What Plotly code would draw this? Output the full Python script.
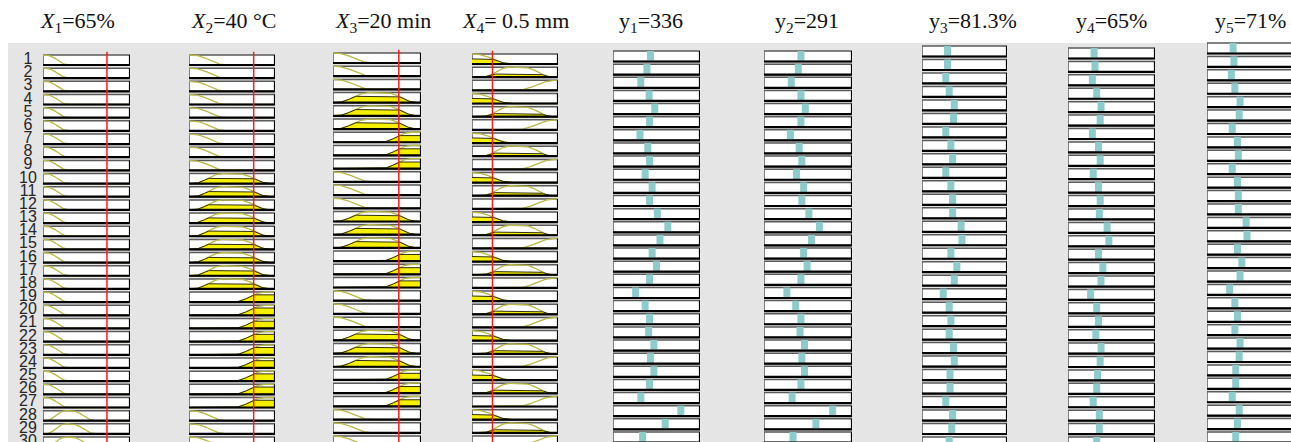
import numpy as np
import plotly.graph_objects as go

# ---------------- data ----------------
titles = ["<i>X</i><sub>1</sub>=65%", "<i>X</i><sub>2</sub>=40 °C", "<i>X</i><sub>3</sub>=20 min",
          "<i>X</i><sub>4</sub>= 0.5 mm", "y<sub>1</sub>=336", "y<sub>2</sub>=291",
          "y<sub>3</sub>=81.3%", "y<sub>4</sub>=65%", "y<sub>5</sub>=71%"]
rule_ids = list(range(1, 31))

# antecedent membership function used by each rule (L = low, M = medium, H = high)
x1_mf = ["L", "L", "L", "L", "L", "L", "L", "L", "L", "L", "L", "L", "L", "L", "L",
         "L", "L", "L", "L", "L", "L", "L", "L", "L", "L", "L", "L", "M", "M", "M"]
x2_mf = ["L", "L", "L", "L", "L", "L", "L", "L", "L", "M", "M", "M", "M", "M", "M",
         "M", "M", "M", "H", "H", "H", "H", "H", "H", "H", "H", "H", "L", "L", "L"]
x3_mf = ["L", "L", "L", "M", "M", "M", "H", "H", "H", "L", "L", "L", "M", "M", "M",
         "H", "H", "H", "L", "L", "L", "M", "M", "M", "H", "H", "H", "L", "L", "L"]
x4_mf = ["L", "M", "H", "L", "M", "H", "L", "M", "H", "L", "M", "H", "L", "M", "H",
         "L", "M", "H", "L", "M", "H", "L", "M", "H", "L", "M", "H", "L", "M", "H"]

# current input values (fraction of each input's universe)
input_values = [0.735, 0.752, 0.748, 0.238]

# membership function parameters (fraction of universe)
mf_params = [
    {"L": ("z", 0.02, 0.31), "M": ("pi", 0.02, 0.27, 0.31, 0.62)},
    {"L": ("z", 0.02, 0.45), "M": ("pi", 0.03, 0.40, 0.55, 0.96), "H": ("s", 0.50, 0.90)},
    {"L": ("z", 0.01, 0.46), "M": ("pi", 0.02, 0.42, 0.58, 0.97), "H": ("s", 0.53, 0.90)},
    {"L": ("z", 0.00, 0.48), "M": ("pi", 0.10, 0.45, 0.58, 0.95), "H": ("s", 0.50, 0.98)},
]

# rule outputs (fraction of each output's universe)
y1_out = [0.43, 0.39, 0.32, 0.415, 0.48, 0.42, 0.31, 0.40, 0.42, 0.37, 0.45, 0.42, 0.51, 0.63, 0.54,
          0.45, 0.50, 0.42, 0.26, 0.37, 0.42, 0.41, 0.47, 0.43, 0.47, 0.42, 0.32, 0.78, 0.60, 0.34]
y2_out = [0.42, 0.39, 0.31, 0.42, 0.47, 0.42, 0.30, 0.40, 0.43, 0.37, 0.45, 0.43, 0.51, 0.63, 0.54,
          0.45, 0.49, 0.42, 0.26, 0.36, 0.42, 0.41, 0.46, 0.43, 0.46, 0.42, 0.32, 0.78, 0.59, 0.33]
y3_out = [0.30, 0.30, 0.28, 0.32, 0.38, 0.37, 0.28, 0.34, 0.36, 0.28, 0.34, 0.36, 0.36, 0.46, 0.47,
          0.34, 0.41, 0.38, 0.25, 0.32, 0.34, 0.32, 0.37, 0.38, 0.33, 0.33, 0.28, 0.36, 0.35, 0.32]
y4_out = [0.30, 0.31, 0.28, 0.33, 0.38, 0.37, 0.28, 0.35, 0.37, 0.29, 0.35, 0.37, 0.36, 0.45, 0.47,
          0.35, 0.40, 0.38, 0.26, 0.33, 0.35, 0.32, 0.38, 0.37, 0.34, 0.33, 0.29, 0.36, 0.36, 0.33]
y5_out = [0.30, 0.31, 0.28, 0.32, 0.38, 0.37, 0.29, 0.35, 0.36, 0.29, 0.35, 0.36, 0.36, 0.45, 0.46,
          0.35, 0.40, 0.38, 0.26, 0.32, 0.35, 0.32, 0.38, 0.37, 0.33, 0.33, 0.29, 0.37, 0.35, 0.33]

input_rules = [x1_mf, x2_mf, x3_mf, x4_mf]
outputs = [y1_out, y2_out, y3_out, y4_out, y5_out]

# ---------------- layout (pixels) ----------------
W, H = 1291, 442
# left, right, top of row 1 box, top of row 30 box, box height
col_geom = [
    (43, 130, 55, 437, 10), (189, 275, 55, 437, 10), (333, 421, 53, 436, 10), (472, 558, 54, 436, 10),
    (613, 700, 51, 432, 10.5), (764, 852, 51, 432, 10.5), (922, 1007, 46, 437, 10.5),
    (1068, 1155, 48, 437, 10.5), (1207, 1294, 43, 432, 10.5),
]
title_x = [77, 234, 383, 515, 651, 807, 973, 1111, 1250]
title_y = 22
label_x = 28


def smf(x, a, b):
    m = (a + b) / 2
    t = (x - a) / (b - a)
    u = (x - b) / (b - a)
    return np.where(x <= a, 0.0, np.where(x <= m, 2 * t ** 2, np.where(x <= b, 1 - 2 * u ** 2, 1.0)))


def mf_eval(p, x):
    x = np.asarray(x, dtype=float)
    if p[0] == "z":
        return 1 - smf(x, p[1], p[2])
    if p[0] == "s":
        return smf(x, p[1], p[2])
    return smf(x, p[1], p[2]) * (1 - smf(x, p[3], p[4]))


fig = go.Figure()
layout_axes = {}
xs = np.linspace(0, 1, 101)

for k, (l, r, t1, t30, bh) in enumerate(col_geom):
    idx = "" if k == 0 else str(k + 1)
    xa, ya = "x" + idx, "y" + idx
    pitch = (t30 - t1) / 29
    hb = bh / pitch
    right = min(r, W)
    layout_axes["xaxis" + idx] = dict(domain=[l / W, right / W], range=[0, (right - l) / (r - l)],
                                      visible=False, anchor=ya, fixedrange=True)
    layout_axes["yaxis" + idx] = dict(domain=[0, 1], range=[(H - t1) / pitch, -t1 / pitch],
                                      visible=False, anchor=xa, fixedrange=True)

    # boxes
    bx, by, sx, sy = [], [], [], []
    for i in range(len(rule_ids)):
        top, bot = i, i + hb
        bx += [0, 1, 1, 0, 0, None]
        by += [top, top, bot, bot, top, None]
        sx += [1, 1, 0, None]
        sy += [top, bot, bot, None]
    fig.add_trace(go.Scatter(x=bx, y=by, xaxis=xa, yaxis=ya, mode="lines", fill="toself",
                             fillcolor="white", line=dict(color="#5a5a5a", width=1.5),
                             hoverinfo="skip", showlegend=False))

    if k < 4:
        rules = input_rules[k]
        params = mf_params[k]
        val = input_values[k]
        cx, cy, fx, fy = [], [], [], []
        for i, lab in enumerate(rules):
            mf = mf_eval(params[lab], xs)
            cx += list(xs) + [None]
            cy += list(i + hb * (1 - mf)) + [None]
            mu = float(mf_eval(params[lab], [val])[0])
            if mu > 0.01:
                clip = np.minimum(mf, mu)
                fx += list(xs) + [1, 0, None]
                fy += list(i + hb * (1 - clip)) + [i + hb, i + hb, None]
        fig.add_trace(go.Scatter(x=cx, y=cy, xaxis=xa, yaxis=ya, mode="lines",
                                 line=dict(color="#b8b845", width=1.3),
                                 hoverinfo="skip", showlegend=False))
        if fx:
            fig.add_trace(go.Scatter(x=fx, y=fy, xaxis=xa, yaxis=ya, mode="lines", fill="toself",
                                     fillcolor="#f5f000", line=dict(color="#1a1a00", width=0.9),
                                     hoverinfo="skip", showlegend=False))
    else:
        vals = outputs[k - 4]
        tx, ty = [], []
        for i, v in enumerate(vals):
            tx += [v, v, None]
            ty += [i, i + hb, None]
        fig.add_trace(go.Scatter(x=tx, y=ty, xaxis=xa, yaxis=ya, mode="lines",
                                 line=dict(color="#8ecccc", width=7),
                                 hoverinfo="skip", showlegend=False))

    # darker bottom / right edge
    fig.add_trace(go.Scatter(x=sx, y=sy, xaxis=xa, yaxis=ya, mode="lines",
                             line=dict(color="#000000", width=2.2),
                             hoverinfo="skip", showlegend=False))

    if k < 4:
        val = input_values[k]
        fig.add_trace(go.Scatter(x=[val, val], y=[-0.25, 31], xaxis=xa, yaxis=ya, mode="lines",
                                 line=dict(color="#ff1a1a", width=1.5),
                                 hoverinfo="skip", showlegend=False))

# rule numbers
l0, r0, t10, t300, bh0 = col_geom[0]
p0 = (t300 - t10) / 29
layout_axes["xaxis10"] = dict(domain=[(label_x - 15) / W, (label_x + 15) / W], range=[0, 1],
                              visible=False, anchor="y", fixedrange=True)
fig.add_trace(go.Scatter(x=[0.5] * len(rule_ids), y=[i + (bh0 / p0) / 2 for i in range(len(rule_ids))],
                         xaxis="x10", yaxis="y", mode="text", text=[str(n) for n in rule_ids],
                         textfont=dict(family="Liberation Sans", size=16, color="#262626"),
                         textposition="middle center", hoverinfo="skip", showlegend=False))

annotations = []
for k, t in enumerate(titles):
    annotations.append(dict(text=t, x=title_x[k] / W, y=1 - title_y / H, xref="paper", yref="paper",
                            xanchor="center", yanchor="middle", showarrow=False,
                            font=dict(family="Liberation Serif", size=22, color="#111111")))

fig.update_layout(
    width=W, height=H, margin=dict(l=0, r=0, t=0, b=0),
    paper_bgcolor="white", plot_bgcolor="rgba(0,0,0,0)",
    annotations=annotations,
    shapes=[dict(type="rect", xref="paper", yref="paper", x0=8 / W, x1=1, y0=0, y1=1 - 43 / H,
                 fillcolor="#e5e5e5", line=dict(width=0), layer="below")],
    **layout_axes,
)

fig.write_html("out.html", config={"displayModeBar": False, "staticPlot": True},
               post_script="document.body.style.margin='0';document.body.style.overflow='hidden';")
